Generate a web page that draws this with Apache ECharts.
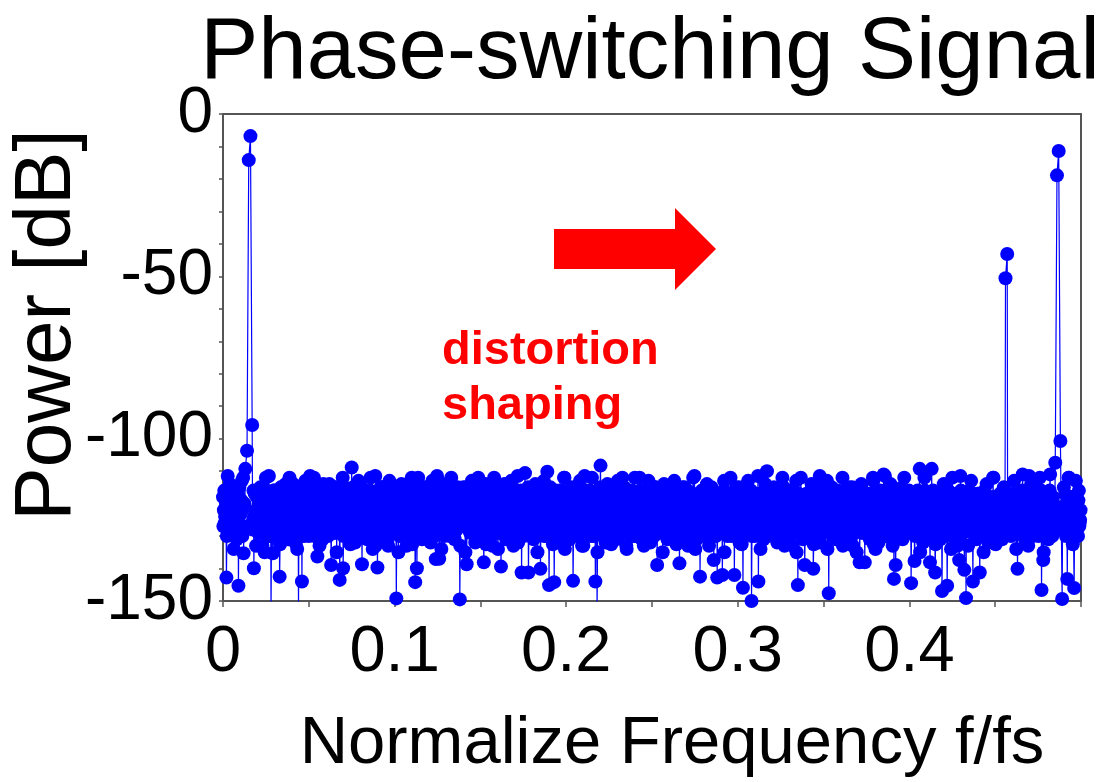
<!DOCTYPE html>
<html>
<head>
<meta charset="utf-8">
<script src="https://cdn.jsdelivr.net/npm/echarts@6/dist/echarts.min.js"></script>
<style>
  html, body { margin: 0; padding: 0; background: #ffffff; }
  #chart { width: 1106px; height: 782px; }
</style>
</head>
<body>
<div id="chart"></div>
<script>
// Spectrum of the phase-switching signal, sampled every 0.00025 fs.
// For bin group k (starting at k*0.001 fs) the four arrays hold the samples at
// offsets 0, 0.00025, 0.0005 and 0.00075. null marks samples skipped next to the tones.
const groupWidth = 0.001;
const powerDbA = [
  -118,-126,-142.8,-121,-114,-129,-123,-117,-131,-145.3,-120,-113,-135.3,-109.3,-103.7,-14.2,-6.8,-95.8,-139.9,-124,
  -116,-128,-121,-133,-119,-112,-125,-130,-153,-135.3,-118,-127,-122,-142.5,-115,-129,-124,-117,-131,-120,
  -126,-114,-132,-121,-153,-119,-144,-127,-113,-123,-130,-118,-125,-112,-128,-136.3,-120,-116,-131,-124,
  -119,-127,-114,-138.9,-122,-129,-117,-125,-143.5,-121,-139.9,-115,-130,-123,-118,-108.9,-126,-132,-120,-113,
  -128,-138.7,-121,-116,-131,-124,-112,-127,-119,-133,-139.7,-122,-115,-129,-125,-118,-131,-113,-126,-121,
  -117,-149.2,-124,-130,-114,-127,-120,-133,-116,-125,-112,-129,-144.2,-139.9,-121,-118,-131,-123,-115,-128,
  -120,-132,-113,-126,-137.1,-119,-137,-124,-114,-130,-122,-117,-128,-112,-125,-131,-118,-121,-149.5,-127,
  -115,-123,-138.7,-119,-129,-113,-126,-132,-117,-124,-120,-130,-138.1,-114,-127,-121,-116,-133,-112,-125,
  -129,-118,-139.4,-122,-114,-131,-126,-119,-113,-128,-123,-116,-132,-120,-141.2,-125,-110.6,-129,-141.2,-117,
  -122,-131,-114,-127,-119,-140.1,-124,-113,-130,-110.2,-145.1,-121,-128,-144.2,-116,-126,-132,-118,-123,-112,
  -127,-120,-131,-115,-143.8,-124,-118,-129,-113,-126,-133,-121,-116,-128,-122,-112,-130,-144,-153,-125,
  -108.3,-127,-119,-132,-114,-124,-129,-117,-121,-131,-113,-126,-120,-128,-115,-133,-122,-118,-130,-125,
  -112,-128,-121,-116,-131,-124,-119,-127,-113,-132,-120,-126,-115,-138.9,-123,-118,-129,-114,-125,-131,
  -119,-122,-128,-113,-126,-117,-138.4,-124,-130,-115,-121,-133,-118,-127,-112,-125,-131,-120,-142.5,-116,
  -129,-123,-114,-131,-119,-126,-137.4,-121,-142.8,-117,-128,-142,-113,-124,-130,-118,-122,-127,-142,-115,
  -125,-132,-120,-145.9,-116,-128,-113,-123,-150,-119,-130,-126,-144,-117,-122,-131,-114,-110,-127,-121,
  -129,-115,-124,-132,-118,-126,-112,-130,-121,-116,-128,-123,-133,-119,-113,-145.1,-125,-120,-131,-138.9,
  -117,-124,-129,-114,-140.1,-122,-127,-119,-132,-115,-126,-121,-113,-147.6,-128,-118,-124,-131,-116,-123,
  -130,-112,-126,-120,-129,-115,-124,-133,-118,-127,-121,-138.1,-114,-129,-138.1,-122,-117,-131,-125,-113,
  -128,-120,-132,-116,-124,-111,-130,-119,-126,-114,-129,-143.2,-138.9,-121,-127,-117,-131,-112,-125,-122,
  -118,-144.5,-126,-137.7,-120,-129,-109.3,-124,-132,-116,-127,-121,-138.1,-109.3,-128,-141.2,-119,-125,-131,-146.9,
  -114,-123,-145.3,-118,-130,-112,-126,-121,-133,-137.4,-116,-124,-140.4,-149.1,-120,-128,-113,-144,-122,-131,
  -117,-141.2,-125,-119,-129,-114,-132,-121,-127,-112,-124,-130,-118,-126,-131,-115,-50.6,-43.1,-120,-123,
  -128,-113,-122,-140.1,-117,-129,-111,-125,-132,-119,-126,-114,-130,-121,-116,-127,-112,-146.6,-137.4,-123,
  -118,-131,-111,-126,-120,-107.4,-18.9,-11.4,-100.7,-149.4,-115,-128,-143.2,-112,-124,-130,-146,-113,-121,-127
];
const powerDbB = [
  -127,-124,-130,-121,-128,-125,-134,-122,-129,-126,-123,-130,-127,null,null,null,null,-128,-124,-133,
  -125,-129,-122,-127,-135,-124,-128,-126,-130,-123,-127,-129,-125,-132.5,-122,-128,-126,-124,-130,-127,
  -129,-123,-127,-134,-125,-128,-122,-130,-126,-124,-129,-127,-123,-130,-128,-125,-133,-122,-127,-129,
  -124,-130,-126,-128,-123,-129,-135,-125,-127,-122,-130,-126,-128,-124,-132.5,-127,-123,-129,-125,-128,
  -130,-125,-128,-122,-129,-124,-127,-134,-123,-128,-126,-130,-124,-129,-122,-127,-133,-125,-128,-126,
  -123,-128,-135,-126,-124,-130,-127,-122,-129,-125,-132.5,-123,-128,-126,-130,-124,-127,-129,-122,-128,
  -128,-126,-123,-130,-127,-125,-129,-134,-124,-128,-122,-127,-130,-125,-129,-123,-128,-126,-133,-124,
  -126,-135,-125,-128,-123,-129,-126,-124,-130,-127,-122,-129,-125,-132.5,-127,-124,-130,-128,-123,-129,
  -134,-124,-129,-126,-128,-122,-130,-127,-125,-133,-123,-128,-126,-129,-124,-130,-122,-127,-129,-125,
  -125,-129,-122,-135,-126,-128,-124,-130,-127,-123,-129,-125,-132.5,-126,-122,-128,-130,-124,-127,-134,
  -129,-122,-128,-125,-130,-127,-123,-129,-126,-133,-124,-128,-122,-127,-130,-125,-129,-123,-135,-126,
  -124,-130,-126,-129,-122,-128,-132.5,-125,-127,-124,-130,-126,-129,-123,-128,-134,-125,-127,-122,-130,
  -130,-127,-123,-128,-125,-133,-122,-129,-126,-128,-124,-130,-127,-122,-129,-125,-135,-126,-128,-123,
  -127,-124,-130,-125,-132.5,-126,-129,-123,-128,-122,-130,-127,-125,-129,-124,-134,-128,-122,-126,-130,
  -123,-129,-127,-133,-124,-128,-122,-130,-126,-129,-123,-127,-135,-125,-128,-124,-130,-127,-122,-129,
  -128,-125,-132.5,-123,-129,-126,-128,-124,-130,-127,-122,-129,-126,-134,-123,-128,-125,-130,-127,-124,
  -125,-130,-124,-128,-122,-129,-127,-133,-123,-126,-130,-124,-128,-125,-135,-122,-129,-126,-124,-130,
  -129,-123,-128,-126,-132.5,-124,-127,-130,-125,-129,-122,-128,-134,-126,-124,-130,-127,-123,-129,-125,
  -126,-133,-122,-129,-127,-125,-130,-124,-128,-135,-123,-127,-129,-125,-122,-128,-130,-126,-124,-132.5,
  -134,-126,-129,-124,-128,-130,-123,-127,-125,-129,-133,-122,-128,-126,-130,-124,-127,-129,-123,-128,
  -124,-128,-125,-130,-123,-127,-135,-126,-129,-122,-128,-125,-130,-127,-124,-132.5,-126,-129,-122,-127,
  -130,-124,-129,-126,-134,-123,-128,-125,-127,-130,-122,-129,-126,-124,-133,-127,-128,-123,-130,-125,
  -127,-129,-123,-135,-126,-128,-124,-130,-125,-127,-132.5,-123,-129,-126,-128,-124,null,-127,-122,-130,
  -125,-128,-134,-124,-129,-126,-130,-123,-127,-133,-125,-128,-122,-129,-126,-130,-124,-127,-135,-123,
  -129,-124,-127,-130,-126,null,null,null,null,-128,-123,-130,-126,-129,-124,-132.5,-127,-125,-130,-126
];
const powerDbC = [
  -122,-119,-127,-116,-124,-129,-118,-121,-126,-115,-123,-128,-120,null,null,null,null,-125,-117,-122,
  -129,-118,-124,-115,-127,-121,-119,-130,-123,-116,-125,-120,-128,-117,-122,-126,-114,-124,-119,-127,
  -121,-128,-117,-125,-120,-130,-115,-123,-127,-119,-122,-116,-126,-129,-118,-124,-121,-127,-114,-125,
  -123,-117,-126,-120,-128,-115,-124,-121,-118,-127,-125,-119,-122,-129,-116,-124,-120,-126,-117,-123,
  -119,-125,-116,-128,-121,-127,-118,-124,-130,-117,-123,-126,-120,-115,-128,-122,-119,-125,-121,-127,
  -126,-120,-123,-117,-129,-122,-125,-116,-121,-128,-118,-124,-119,-127,-115,-123,-126,-120,-124,-118,
  -124,-117,-127,-121,-119,-126,-122,-129,-118,-123,-116,-125,-120,-128,-121,-117,-124,-127,-119,-122,
  -120,-126,-118,-124,-122,-128,-116,-121,-125,-119,-127,-123,-117,-126,-120,-129,-118,-122,-125,-121,
  -125,-119,-122,-127,-117,-124,-120,-126,-123,-118,-128,-121,-125,-116,-124,-119,-127,-122,-120,-126,
  -118,-124,-127,-120,-125,-122,-117,-129,-121,-124,-119,-126,-123,-118,-127,-121,-116,-125,-128,-120,
  -123,-128,-119,-122,-126,-117,-124,-121,-127,-120,-118,-125,-122,-129,-119,-124,-126,-117,-123,-121,
  -127,-121,-125,-118,-123,-128,-120,-126,-116,-124,-122,-119,-127,-121,-125,-118,-124,-128,-120,-123,
  -120,-125,-118,-127,-122,-119,-126,-121,-124,-117,-128,-123,-120,-125,-119,-127,-122,-118,-126,-124,
  -126,-119,-123,-121,-128,-124,-118,-125,-120,-127,-122,-117,-124,-129,-121,-119,-126,-123,-118,-125,
  -121,-127,-124,-118,-123,-120,-126,-122,-119,-128,-125,-121,-117,-124,-127,-120,-123,-126,-119,-122,
  -124,-118,-121,-126,-120,-127,-123,-119,-125,-122,-117,-128,-121,-124,-126,-119,-122,-120,-125,-118,
  -122,-126,-119,-123,-127,-121,-125,-118,-124,-120,-126,-122,-119,-128,-123,-117,-121,-125,-127,-120,
  -125,-120,-124,-127,-118,-122,-126,-121,-119,-125,-123,-128,-120,-124,-121,-126,-118,-123,-127,-122,
  -119,-124,-121,-126,-123,-118,-127,-120,-125,-122,-128,-119,-124,-121,-126,-120,-123,-125,-118,-127,
  -123,-126,-118,-122,-125,-120,-124,-127,-121,-119,-126,-123,-128,-120,-124,-118,-122,-126,-121,-125,
  -120,-123,-127,-119,-124,-121,-126,-118,-122,-125,-120,-127,-123,-119,-125,-122,-128,-121,-124,-118,
  -126,-121,-124,-122,-118,-127,-120,-125,-123,-119,-126,-121,-124,-128,-120,-123,-117,-125,-122,-127,
  -121,-125,-119,-127,-123,-120,-126,-122,-124,-118,-127,-121,-125,-120,-123,null,null,null,-124,-119,
  -124,-120,-126,-122,-119,-125,-121,-127,-123,-118,-124,-126,-120,-122,-125,-119,-127,-121,-123,-126,
  -122,-126,-119,-124,null,null,null,null,null,-121,-125,-120,-127,-123,-118,-124,-126,-121,-119,-125
];
const powerDbD = [
  -116,-120,-111.5,-123,-118,-121,-115,-124,-117,-122,-119,-112,-121,null,null,null,null,-116,-123,-118,
  -121,-115,-119,-124,-117,-122,-111.5,-120,-125,-116,-121,-118,-123,-115,-120,-117,-124,-119,-112,-122,
  -117,-123,-120,-115,-122,-118,-124,-116,-121,-119,-111.5,-123,-117,-120,-115,-122,-118,-125,-121,-116,
  -122,-116,-118,-124,-115,-121,-119,-117,-123,-112,-120,-122,-116,-124,-118,-115,-121,-119,-123,-117,
  -115,-121,-123,-117,-120,-116,-124,-118,-111.5,-122,-119,-121,-115,-123,-117,-120,-125,-116,-122,-118,
  -120,-117,-122,-116,-123,-119,-115,-121,-118,-124,-116,-120,-123,-112,-119,-122,-117,-121,-115,-124,
  -118,-122,-116,-121,-111.5,-123,-120,-117,-122,-115,-121,-118,-124,-116,-120,-123,-115,-119,-122,-117,
  -123,-115,-121,-118,-124,-116,-119,-122,-112,-121,-117,-123,-119,-116,-122,-118,-124,-115,-120,-121,
  -116,-122,-118,-123,-115,-120,-117,-124,-119,-116,-121,-111.5,-122,-118,-123,-117,-120,-115,-124,-119,
  -121,-117,-124,-115,-120,-118,-122,-116,-123,-119,-115,-121,-117,-124,-118,-122,-116,-120,-112,-123,
  -119,-124,-116,-121,-117,-123,-115,-120,-118,-122,-111.5,-121,-119,-116,-124,-117,-122,-118,-120,-115,
  -116,-120,-123,-117,-121,-115,-124,-118,-122,-116,-120,-123,-112,-121,-117,-119,-122,-116,-124,-118,
  -122,-118,-112,-123,-119,-121,-116,-124,-117,-120,-122,-115,-121,-118,-123,-116,-119,-124,-117,-121,
  -117,-123,-120,-116,-122,-118,-124,-115,-121,-119,-116,-123,-118,-120,-111.5,-122,-117,-121,-123,-116,
  -120,-116,-122,-119,-115,-124,-118,-121,-117,-123,-120,-116,-122,-118,-121,-112,-124,-119,-116,-122,
  -115,-121,-118,-124,-117,-120,-122,-116,-123,-119,-121,-111.5,-120,-117,-124,-118,-122,-116,-121,-119,
  -123,-117,-121,-116,-120,-123,-115,-122,-118,-124,-116,-121,-119,-123,-117,-120,-112,-122,-118,-121,
  -118,-122,-116,-121,-124,-117,-120,-111.5,-123,-118,-121,-116,-122,-119,-115,-123,-120,-117,-124,-119,
  -121,-116,-123,-118,-120,-122,-115,-124,-117,-121,-119,-123,-116,-120,-118,-122,-117,-121,-112,-124,
  -116,-120,-122,-117,-123,-111.5,-121,-118,-124,-116,-120,-122,-117,-123,-119,-115,-121,-118,-122,-116,
  -122,-118,-120,-124,-116,-121,-117,-123,-112,-120,-122,-118,-121,-116,-124,-119,-117,-122,-120,-115,
  -119,-123,-116,-120,-122,-117,-124,-118,-121,-111.5,-123,-119,-117,-122,-116,-120,-123,-118,-121,-117,
  -124,-117,-121,-116,-120,-123,-118,-122,-112,-121,-119,-124,-117,-120,-122,-116,null,-121,-118,-123,
  -117,-121,-124,-118,-122,-116,-120,-123,-119,-111.5,-121,-118,-124,-117,-120,-122,-116,-123,-119,-121,
  -120,-116,-122,-118,-121,null,null,null,null,-123,-117,-121,-112,-122,-119,-124,-118,-120,-116,-122
];

// Axis settings
const xMin = 0, xMax = 0.5, xStep = 0.05;
const yMin = -150, yMax = 0, yStep = 10;
const xLabelStep = 0.1, yLabelStep = 50;

const titleText = 'Phase-switching Signal';
const xName = 'Normalize Frequency f/fs';
const yName = 'Power [dB]';
const noteLines = ['distortion', 'shaping'];

// Merge the four interleaved sample sets into one frequency-ordered series
const sampleSets = [powerDbA, powerDbB, powerDbC, powerDbD];
const spectrum = [];
powerDbA.forEach((_, k) => {
  sampleSets.forEach((set, j) => {
    const p = set[k];
    if (p !== null) spectrum.push([k * groupWidth + j * groupWidth / sampleSets.length, p]);
  });
});

const FONT = '"Liberation Sans", Arial, Helvetica, sans-serif';
const AXIS_COLOR = '#555555';
const MARK_COLOR = '#0000ff';
const NOTE_COLOR = '#ff0000';

const near = (v, step) => Math.abs(v / step - Math.round(v / step)) < 1e-6;

const chart = echarts.init(document.getElementById('chart'), null, { renderer: 'canvas' });

chart.setOption({
  backgroundColor: '#ffffff',
  animation: false,
  grid: { left: 223, right: 25, top: 114, bottom: 181, containLabel: false },
  xAxis: [{
    type: 'value',
    min: xMin, max: xMax, interval: xStep,
    axisLine: { show: true, onZero: false, lineStyle: { color: AXIS_COLOR, width: 2 } },
    axisTick: { show: true, inside: false, length: 6, lineStyle: { color: AXIS_COLOR, width: 1.5 } },
    axisLabel: {
      margin: 20, color: '#000', fontSize: 65, fontFamily: FONT,
      formatter: v => (near(v, xLabelStep) && v < xMax - 1e-9) ? String(+v.toFixed(1)) : ''
    },
    splitLine: { show: false }
  }, {
    type: 'value', position: 'top',
    min: xMin, max: xMax,
    axisLine: { show: true, onZero: false, lineStyle: { color: AXIS_COLOR, width: 2 } },
    axisTick: { show: false }, axisLabel: { show: false }, splitLine: { show: false }
  }],
  yAxis: [{
    type: 'value',
    min: yMin, max: yMax, interval: yStep,
    axisLine: { show: true, onZero: false, lineStyle: { color: AXIS_COLOR, width: 2 } },
    axisTick: { show: true, inside: false, length: 4, lineStyle: { color: AXIS_COLOR, width: 1.5 } },
    axisLabel: {
      margin: 10, color: '#000', fontSize: 64, fontFamily: FONT,
      formatter: v => near(v, yLabelStep) ? String(v) : ''
    },
    splitLine: { show: false }
  }, {
    type: 'value', position: 'right',
    min: yMin, max: yMax,
    axisLine: { show: true, onZero: false, lineStyle: { color: AXIS_COLOR, width: 2 } },
    axisTick: { show: false }, axisLabel: { show: false }, splitLine: { show: false }
  }],
  series: [{
    type: 'line',
    data: spectrum,
    xAxisIndex: 0, yAxisIndex: 0,
    clip: true,
    symbol: 'circle',
    symbolSize: 14,
    showAllSymbol: true,
    lineStyle: { color: MARK_COLOR, width: 1.2 },
    itemStyle: { color: MARK_COLOR },
    emphasis: { disabled: true }
  }],
  graphic: [
    {
      type: 'text', x: 650, y: 98,
      style: { text: titleText, font: '87px ' + FONT, fill: '#000', align: 'center', verticalAlign: 'bottom' }
    },
    {
      type: 'text', x: 48, y: 325, rotation: Math.PI / 2,
      style: { text: yName, font: '80px ' + FONT, fill: '#000', align: 'center', verticalAlign: 'middle' }
    },
    {
      type: 'text', x: 672, y: 745,
      style: { text: xName, font: '67px ' + FONT, fill: '#000', align: 'center', verticalAlign: 'middle' }
    },
    {
      type: 'polygon',
      shape: { points: [[554, 229], [675, 229], [675, 208], [716, 249], [675, 290], [675, 269], [554, 269]] },
      style: { fill: NOTE_COLOR }
    },
    {
      type: 'text', x: 442, y: 328,
      style: { text: noteLines[0], font: 'bold 47px ' + FONT, fill: NOTE_COLOR, align: 'left', verticalAlign: 'top' }
    },
    {
      type: 'text', x: 442, y: 383,
      style: { text: noteLines[1], font: 'bold 47px ' + FONT, fill: NOTE_COLOR, align: 'left', verticalAlign: 'top' }
    }
  ]
});
</script>
</body>
</html>
